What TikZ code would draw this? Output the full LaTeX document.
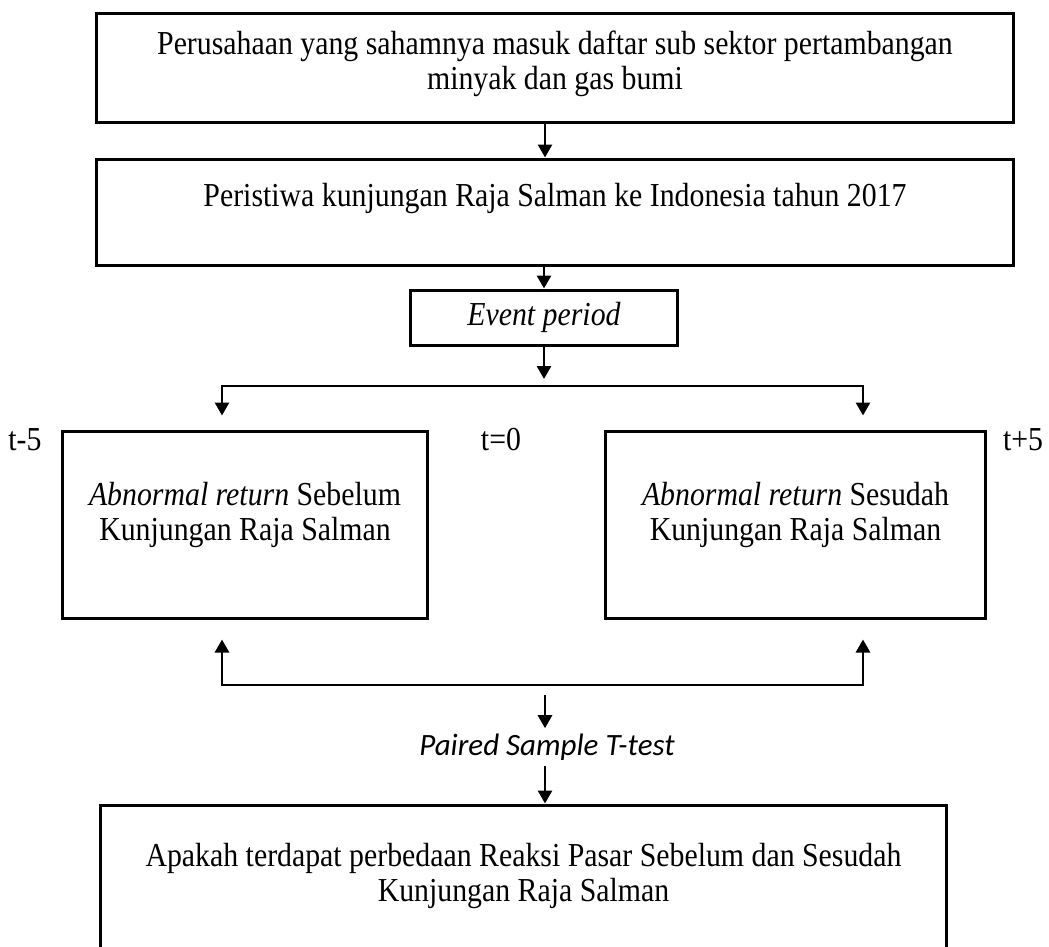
\documentclass[tikz,border=0pt]{standalone}
\usepackage{fontspec}
\setmainfont[FakeStretch=0.89]{Liberation Serif}
\newfontfamily\calibrifont{Carlito}
\usetikzlibrary{positioning,arrows.meta}

\begin{document}
\begin{tikzpicture}[x=0.4pt,y=-0.4pt,
    every node/.style={font=\fontsize{13.4}{14}\selectfont},
    box/.style={draw, line width=1.2pt, inner sep=0pt},
    txt/.style={align=center, inner sep=1pt},
    arr/.style={line width=1.1pt, -{Triangle[length=5.2pt,width=5.6pt]}},
    arrs/.style={line width=1.1pt, {Triangle[length=5.2pt,width=5.6pt]}-{Triangle[length=5.2pt,width=5.6pt]}}]
  \useasboundingbox (0,0) rectangle (1049,947);
  % kotak-kotak
  \node[box, minimum width=366.4pt, minimum height=43.6pt] (perusahaan) at (555,67.5) {};
  \node[txt] (perusahaantxt) at (555,64)
    {Perusahaan yang sahamnya masuk daftar sub sektor pertambangan\\ minyak dan gas bumi};
  \node[box, minimum width=366.4pt, minimum height=42.4pt] (peristiwa) at (555,212) {};
  \node[txt] (peristiwatxt) at (555,198)
    {Peristiwa kunjungan Raja Salman ke Indonesia tahun 2017};
  \node[box, minimum width=106.4pt, minimum height=22pt] (event) at (544,317.5) {\textit{Event period}};
  \node[box, minimum width=145.6pt, minimum height=74.8pt] (sebelum) at (245,524.5) {};
  \node[txt] (sebelumtxt) at (245,515) {\textit{Abnormal return} Sebelum\\ Kunjungan Raja Salman};
  \node[box, minimum width=151.6pt, minimum height=74.8pt] (sesudah) at (795.5,524.5) {};
  \node[txt] (sesudahtxt) at (795.5,515) {\textit{Abnormal return} Sesudah\\ Kunjungan Raja Salman};
  \node[box, minimum width=338pt, minimum height=57.2pt] (apakah) at (523.5,876.5) {};
  \node[txt] (apakahtxt) at (523.5,876)
    {Apakah terdapat perbedaan Reaksi Pasar Sebelum dan Sesudah\\ Kunjungan Raja Salman};
  \node[inner sep=2pt, font=\calibrifont\itshape\fontsize{12.4}{14}\selectfont] (ttest) at (547,747) {Paired Sample T-test};
  % label waktu
  \foreach \x/\nm/\lbl in {25/tmin/t-5, 501/tnol/t=0, 1023/tplus/t+5}{
    \node[inner sep=0pt] (\nm) at (\x,440) {\lbl};
  }
  % panah
  \coordinate (split) at (544,379);
  \coordinate (hl) at (222,386);
  \coordinate (hr) at (863,386);
  \coordinate (bl) at (222,685);
  \coordinate (br) at (863,685);
  \coordinate (pairedin) at (545,695);
  \draw[arr] ([xshift=-4pt]perusahaan.south) -- ([xshift=-4pt]peristiwa.north);
  \draw[arr] (event.north |- peristiwa.south) -- (event.north);
  \draw[arr] (event.south) -- (split);
  \draw[arrs] ([yshift=5.6pt]hl |- sebelum.north) -- (hl) -- (hr) -- ([yshift=5.6pt]hr |- sesudah.north);
  \draw[arrs] ([yshift=-8pt]bl |- sebelum.south) -- (bl) -- (br) -- ([yshift=-8pt]br |- sesudah.south);
  \draw[arr] (pairedin) -- (pairedin |- ttest.north);
  \draw[arr] (pairedin |- ttest.south) -- (pairedin |- apakah.north);
\end{tikzpicture}
\end{document}
